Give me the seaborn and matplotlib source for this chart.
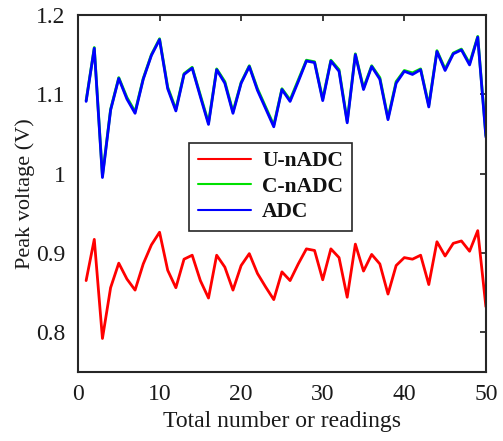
import numpy as np
import pandas as pd
import matplotlib
matplotlib.use("Agg")
import matplotlib.pyplot as plt
import seaborn as sns

# readings 1..50
readings = list(range(1, 51))

u_nadc = [0.865, 0.917, 0.792, 0.856, 0.887, 0.867, 0.853, 0.886, 0.910, 0.926,
          0.878, 0.856, 0.892, 0.897, 0.865, 0.843, 0.897, 0.882, 0.853, 0.884,
          0.899, 0.874, 0.857, 0.841, 0.876, 0.865, 0.886, 0.905, 0.903, 0.866,
          0.905, 0.894, 0.844, 0.911, 0.877, 0.898, 0.886, 0.848, 0.884, 0.894,
          0.892, 0.897, 0.860, 0.914, 0.896, 0.912, 0.915, 0.902, 0.928, 0.832]

c_nadc = [1.092, 1.159, 0.997, 1.081, 1.121, 1.096, 1.078, 1.120, 1.150, 1.170,
          1.109, 1.081, 1.126, 1.134, 1.099, 1.064, 1.132, 1.116, 1.078, 1.115,
          1.136, 1.107, 1.084, 1.061, 1.107, 1.093, 1.118, 1.143, 1.141, 1.094,
          1.143, 1.131, 1.066, 1.151, 1.108, 1.136, 1.121, 1.070, 1.116, 1.130,
          1.127, 1.132, 1.086, 1.155, 1.132, 1.152, 1.157, 1.139, 1.173, 1.048]

adc = [1.091, 1.158, 0.995, 1.080, 1.120, 1.094, 1.076, 1.119, 1.149, 1.169,
       1.107, 1.079, 1.125, 1.133, 1.097, 1.062, 1.131, 1.114, 1.076, 1.114,
       1.135, 1.105, 1.082, 1.059, 1.106, 1.091, 1.116, 1.142, 1.140, 1.092,
       1.142, 1.129, 1.064, 1.150, 1.106, 1.135, 1.119, 1.068, 1.114, 1.129,
       1.125, 1.131, 1.084, 1.154, 1.130, 1.151, 1.156, 1.137, 1.172, 1.046]

df = pd.concat([
    pd.DataFrame({"reading": readings, "voltage": u_nadc, "type": "U-nADC"}),
    pd.DataFrame({"reading": readings, "voltage": c_nadc, "type": "C-nADC"}),
    pd.DataFrame({"reading": readings, "voltage": adc, "type": "ADC"}),
])

sns.set_style("white")
plt.rcParams['font.family'] = ['Liberation Serif', 'DejaVu Serif']

fig = plt.figure(figsize=(5.03, 4.41), dpi=100)
ax = fig.add_axes([0.155, 0.157, 0.811, 0.809])

sns.lineplot(data=df, x="reading", y="voltage", hue="type", ax=ax,
             palette={"U-nADC": "#ff0000", "C-nADC": "#00e000", "ADC": "#0000ff"},
             linewidth=2, legend=True)

ax.set_xlim(0, 50)
ax.set_ylim(0.75, 1.2)
ax.set_xticks([0, 10, 20, 30, 40, 50])
ax.set_yticks([0.8, 0.9, 1.0, 1.1, 1.2])
ax.set_yticklabels(["0.8", "0.9", "1", "1.1", "1.2"])
ax.tick_params(direction='in', length=4, width=1.2, top=True, right=True,
               labelsize=17, colors='#1a1a1a', pad=9)
for s in ax.spines.values():
    s.set_color('#262626')
    s.set_linewidth(1.5)

ax.set_xlabel("Total number or readings", fontsize=17, color='#1a1a1a', labelpad=4)
ax.set_ylabel("Peak voltage (V)", fontsize=16, color='#1a1a1a', labelpad=1)

leg = ax.legend(loc='upper left', bbox_to_anchor=(0.272, 0.642), borderaxespad=0,
                fancybox=False, edgecolor='#262626', framealpha=1,
                prop={'weight': 'bold', 'size': 15.5}, handlelength=2.5,
                handletextpad=0.5, labelspacing=0.25, borderpad=0.4)
leg.get_frame().set_linewidth(1.2)
for text in leg.get_texts():
    text.set_color('#111111')
for line in leg.get_lines():
    line.set_linewidth(1.5)

fig.savefig("out.png", dpi=100)
